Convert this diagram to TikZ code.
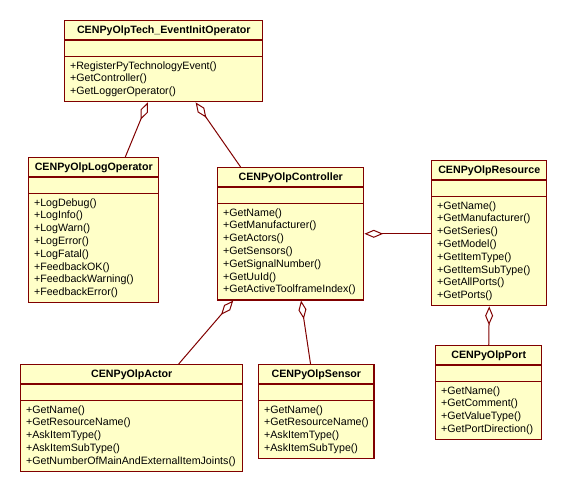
\documentclass[tikz,border=0pt]{standalone}
\usepackage{fontspec}
\setmainfont{Liberation Sans}
\usetikzlibrary{shapes.multipart}
\usetikzlibrary{arrows.meta}
\usetikzlibrary{calc}

\definecolor{umlline}{RGB}{128,0,0}
\definecolor{umlfill}{RGB}{255,255,200}

\tikzset{
  umlclass/.style={rectangle split, rectangle split parts=3,
    rectangle split part align={center,left,left},
    rectangle split empty part height=0pt,
    draw=umlline, fill=umlfill, line width=1.1pt,
    anchor=north west, align=left, inner xsep=4pt, inner ysep=3pt,
    font=\fontsize{8}{9.6}\selectfont},
  aggr/.style={draw=umlline, line width=0.75pt,
    {Diamond[open,length=14pt,width=6pt]}-}
}

\begin{document}
\begin{tikzpicture}[x=0.75pt,y=0.75pt,yscale=-1]
        \useasboundingbox (0,0) rectangle (566,491);
        % Class: event init operator
        \node [umlclass, minimum width=148.5pt] (eio) at (64,20) {\textbf{CENPyOlpTech\_EventInitOperator}\nodepart{second}\nodepart{third}+RegisterPyTechnologyEvent()\\+GetController()\\+GetLoggerOperator()};
        % Class: log operator
        \node [umlclass, minimum width=97.5pt] (log) at (28,157) {\textbf{CENPyOlpLogOperator}\nodepart{second}\nodepart{third}+LogDebug()\\+LogInfo()\\+LogWarn()\\+LogError()\\+LogFatal()\\+FeedbackOK()\\+FeedbackWarning()\\+FeedbackError()};
        % Class: controller
        \node [umlclass, minimum width=109.5pt] (ctrl) at (217,167) {\textbf{CENPyOlpController}\nodepart{second}\nodepart{third}+GetName()\\+GetManufacturer()\\+GetActors()\\+GetSensors()\\+GetSignalNumber()\\+GetUuId()\\+GetActiveToolframeIndex()};
        % Class: resource
        \node [umlclass, minimum width=86.25pt] (res) at (431,160) {\textbf{CENPyOlpResource}\nodepart{second}\nodepart{third}+GetName()\\+GetManufacturer()\\+GetSeries()\\+GetModel()\\+GetItemType()\\+GetItemSubType()\\+GetAllPorts()\\+GetPorts()};
        % Class: actor
        \node [umlclass, minimum width=166.5pt] (actor) at (20,364) {\textbf{CENPyOlpActor}\nodepart{second}\nodepart{third}+GetName()\\+GetResourceName()\\+AskItemType()\\+AskItemSubType()\\+GetNumberOfMainAndExternalItemJoints()};
        % Class: sensor
        \node [umlclass, minimum width=86.25pt] (sensor) at (258,364) {\textbf{CENPyOlpSensor}\nodepart{second}\nodepart{third}+GetName()\\+GetResourceName()\\+AskItemType()\\+AskItemSubType()};
        % Class: port
        \node [umlclass, minimum width=79.5pt] (port) at (435,345) {\textbf{CENPyOlpPort}\nodepart{second}\nodepart{third}+GetName()\\+GetComment()\\+GetValueType()\\+GetPortDirection()};

        % Aggregations
        \draw [aggr] ($(eio.south west)!0.42!(eio.south east)$) -- ($(log.north west)!0.74!(log.north east)$);
        \draw [aggr] ($(eio.south west)!0.66!(eio.south east)$) -- ($(ctrl.north west)!0.16!(ctrl.north east)$);
        \draw [aggr] (ctrl.east) -- (ctrl.east -| res.west);
        \draw [aggr] ($(ctrl.south west)!0.11!(ctrl.south east)$) -- ($(actor.north west)!0.71!(actor.north east)$);
        \draw [aggr] ($(ctrl.south west)!0.57!(ctrl.south east)$) -- ($(sensor.north west)!0.45!(sensor.north east)$);
        \draw [aggr] (res.south) -- (port.north);
\end{tikzpicture}
\end{document}
